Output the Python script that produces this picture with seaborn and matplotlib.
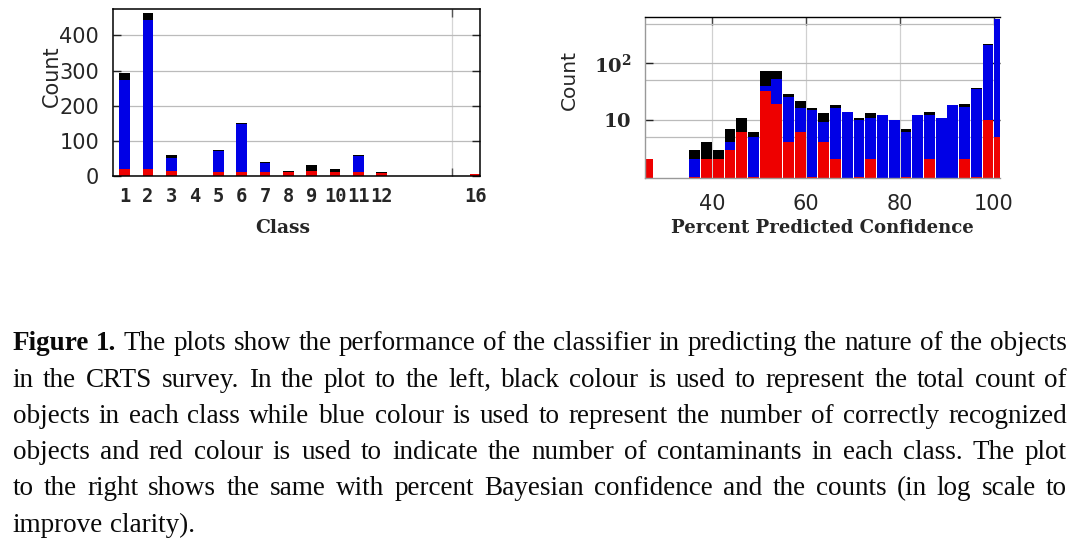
import matplotlib
matplotlib.use("Agg")
import matplotlib.pyplot as plt
import seaborn as sns
import pandas as pd
from matplotlib.ticker import FixedLocator, NullFormatter

# ---- data ----
# left panel: counts per class
classes = [1, 2, 3, 5, 6, 7, 8, 9, 10, 11, 12, 16]
class_total = [293, 464, 59, 75, 151, 39, 14, 31, 21, 59, 11, 6]
class_correct = [273, 444, 51, 71, 148, 37, 0, 0, 0, 57, 0, 0]
class_contam = [20, 20, 14, 10, 11, 10, 11, 14, 11, 11, 8, 6]
class_ticks = [1, 2, 3, 4, 5, 6, 7, 8, 9, 10, 11, 12, 16]

# right panel: counts per 2.5% confidence bin (bin centres)
conf_bins = [26.25, 28.75, 31.25, 33.75, 36.25, 38.75, 41.25, 43.75, 46.25, 48.75,
             51.25, 53.75, 56.25, 58.75, 61.25, 63.75, 66.25, 68.75, 71.25, 73.75,
             76.25, 78.75, 81.25, 83.75, 86.25, 88.75, 91.25, 93.75, 96.25, 98.75,
             101.25]
conf_total = [2, 0, 0, 0, 3, 4, 3, 7, 11, 6, 72, 72, 29, 22, 16, 13, 18, 14, 11, 13,
              12, 10, 7, 12, 14, 11, 18, 19, 36, 220, 610]
conf_correct = [0, 0, 0, 0, 2, 2, 1, 4, 5, 5, 39, 53, 25, 16, 15, 9, 16, 14, 10, 11,
                12, 10, 6, 12, 12, 11, 18, 17, 35, 210, 600]
conf_contam = [2, 0, 0, 0, 1, 2, 2, 3, 6, 1, 33, 19, 4, 6, 1, 4, 2, 0, 1, 2,
               0, 0, 1, 0, 2, 0, 0, 2, 1, 10, 5]

caption = [
    [("Figure", True), ("1.", True), "The plots show the performance of the classifier in predicting the nature of the objects"],
    "in the CRTS survey.  In the plot to the left, black colour is used to represent the total count of",
    "objects in each class while blue colour is used to represent the number of correctly recognized",
    "objects and red colour is used to indicate the number of contaminants in each class.  The plot",
    "to the right shows the same with percent Bayesian confidence and the counts (in log scale to",
    "improve clarity).",
]

BLACK, BLUE, RED = "#000000", "#0000e6", "#ee0000"

sns.set_theme(style="white")
plt.rcParams["font.family"] = ["DejaVu Sans"]
plt.rcParams["mathtext.fontset"] = "dejavuserif"

W, H = 1072, 545
fig = plt.figure(figsize=(W / 100, H / 100), dpi=100)


def px_axes(x0, y0, x1, y1):
    return fig.add_axes([x0 / W, 1 - y1 / H, (x1 - x0) / W, (y1 - y0) / H])


# ---------------- left panel ----------------
ax1 = px_axes(113, 9, 480, 176)
df1 = pd.DataFrame({"Class": classes, "total": class_total,
                    "correct": class_correct, "contam": class_contam})
for col, c in [("total", BLACK), ("correct", BLUE), ("contam", RED)]:
    sns.barplot(data=df1, x="Class", y=col, color=c, native_scale=True,
                width=0.46, errorbar=None, linewidth=0, saturation=1, ax=ax1)

ax1.set_xlim(0.5, 16.2)
ax1.set_ylim(0, 475)
ax1.set_xticks(class_ticks)
ax1.set_xticklabels([str(t) for t in class_ticks], family="DejaVu Sans Mono",
                    fontweight="bold", fontsize=13.5)
ax1.xaxis.set_minor_locator(FixedLocator([5, 10, 15]))
ax1.tick_params(axis="x", which="major", length=0, pad=8)
ax1.tick_params(axis="x", which="minor", direction="in", length=6, width=1,
                top=True, bottom=True, color="#555555")
ax1.set_yticks([0, 100, 200, 300, 400])
ax1.tick_params(axis="y", direction="in", length=6, width=1, left=True, right=True,
                labelsize=15, pad=10, color="#222222")
ax1.set_axisbelow(True)
ax1.grid(False)
ax1.grid(True, axis="y", which="major", color="#bbbbbb", lw=0.9)
ax1.grid(True, axis="x", which="minor", color="#d5d5d5", lw=0.9)
for s in ax1.spines.values():
    s.set_visible(True)
    s.set_color("black")
    s.set_linewidth(1.1)
ax1.set_xlabel("Class", family="DejaVu Serif", fontweight="bold", fontsize=13.5)
ax1.xaxis.set_label_coords(0.463, -0.26)
ax1.set_ylabel("Count", fontsize=15)
ax1.yaxis.set_label_coords(-0.14, 0.6)

# ---------------- right panel ----------------
ax2 = px_axes(645, 16.7, 1000, 178.3)
df2 = pd.DataFrame({"conf": conf_bins, "total": conf_total,
                    "correct": conf_correct, "contam": conf_contam})
for col, c in [("total", BLACK), ("correct", BLUE), ("contam", RED)]:
    sns.barplot(data=df2, x="conf", y=col, color=c, native_scale=True,
                width=0.92, errorbar=None, linewidth=0, saturation=1, ax=ax2)

ax2.set_yscale("log")
ax2.set_ylim(0.93, 665)
ax2.set_xlim(25.65, 101.3)
ax2.set_xticks([40, 60, 80, 100])
ax2.tick_params(axis="x", which="major", direction="in", length=6, width=1,
                bottom=False, top=True, labelsize=15, pad=11, color="#444444")
ax2.yaxis.set_major_locator(FixedLocator([10, 100]))
ax2.set_yticklabels([r"$\mathbf{10}$", r"$\mathbf{10^2}$"])
ax2.yaxis.set_minor_locator(FixedLocator([5, 50, 500]))
ax2.yaxis.set_minor_formatter(NullFormatter())
ax2.tick_params(axis="y", which="major", direction="in", length=6, width=1,
                left=True, right=True, labelsize=14, pad=10, color="#222222")
ax2.tick_params(axis="y", which="minor", length=0)
ax2.set_axisbelow(True)
ax2.grid(False)
ax2.grid(True, axis="x", which="major", color="#d0d0d0", lw=0.9)
ax2.grid(True, axis="y", which="both", color="#bbbbbb", lw=0.9)
for name, s in ax2.spines.items():
    s.set_visible(True)
    s.set_linewidth(1.0)
    s.set_color("black" if name == "top" else "#999999")
ax2.spines["right"].set_visible(False)
ax2.set_xlabel("Percent Predicted Confidence", family="DejaVu Serif",
               fontweight="bold", fontsize=13.1)
ax2.xaxis.set_label_coords(0.5, -0.25)
ax2.set_ylabel("Count", fontsize=14.5)
ax2.yaxis.set_label_coords(-0.187, 0.61)

# ---------------- caption (justified) ----------------
renderer = fig.canvas.get_renderer()
x_left, x_right = 12.5, 1067
baselines = [350.5, 386.7, 422.9, 459.1, 495.3, 531.5]
cap_kw = dict(family="Liberation Serif", fontsize=19.5, va="baseline", ha="left",
              color="#0a0a0a")

for i, line in enumerate(caption):
    words = []
    for part in (line if isinstance(line, list) else [line]):
        if isinstance(part, tuple):
            words.append(part)
        else:
            words += [(w, False) for w in part.split()]
    y = 1 - baselines[i] / H
    texts = [fig.text(0, y, w, fontweight="bold" if b else "normal", **cap_kw)
             for w, b in words]
    widths = [t.get_window_extent(renderer).width for t in texts]
    last = i == len(caption) - 1
    gap = 6.8 if last else (x_right - x_left - sum(widths)) / (len(words) - 1)
    x = x_left
    for t, w in zip(texts, widths):
        t.set_x(x / W)
        x += w + gap

fig.savefig("out.png", dpi=100)
